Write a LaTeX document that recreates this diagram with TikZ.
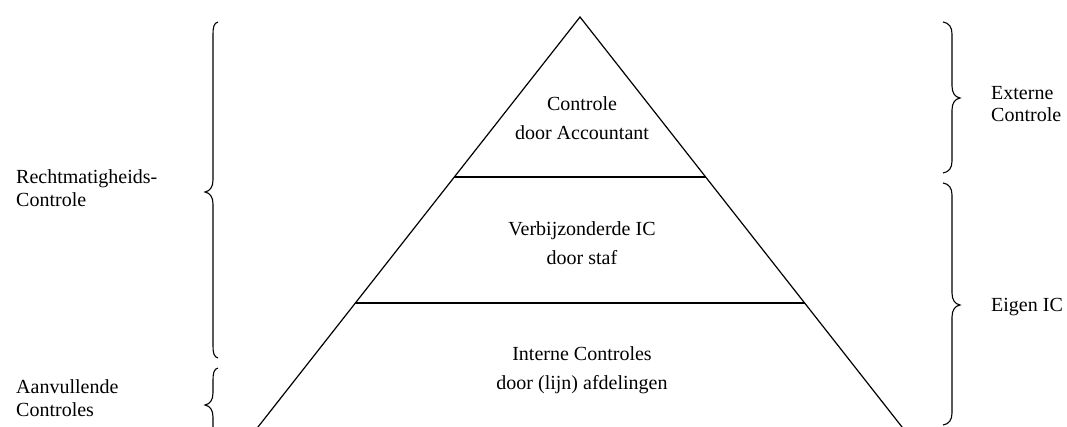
\documentclass[tikz,border=0pt]{standalone}
\usepackage{fontspec}
\setmainfont{Liberation Serif}
\begin{document}
\begin{tikzpicture}[x=1pt,y=-1pt,
  edge/.style={line width=1.2pt,line cap=butt},
  band/.style={line width=1.8pt},
  bracepath/.style={line width=1.1pt},
  centre/.style={align=center,inner sep=0pt,font=\fontsize{20}{29.5}\selectfont},
  side/.style={align=left,inner sep=0pt,anchor=west,font=\fontsize{20}{22.5}\selectfont}]
\useasboundingbox (0,0) rectangle (1067,427);
\begin{scope}
\clip (0,0) rectangle (1067,427);
% triangle
\coordinate (apex) at (580,17);
\coordinate (bl) at (247,441);
\coordinate (br) at (913,441);
\coordinate (l1) at (454.4,177);
\coordinate (r1) at (705.6,177);
\coordinate (l2) at (355.5,303);
\coordinate (r2) at (804.5,303);
\draw[edge] (bl) -- (apex) -- (br);
\draw[band] (l1) -- (r1);
\draw[band] (l2) -- (r2);
% left braces
\draw[bracepath] (218,22) .. controls (214,23) and (213,27) .. (213,34) -- (213,180)
  .. controls (213,187) and (210,191) .. (205,192)
  .. controls (210,193) and (213,197) .. (213,204) -- (213,346)
  .. controls (213,353) and (214,357) .. (218,358);
\draw[bracepath] (218,368) .. controls (214,369) and (213,373) .. (213,380) -- (213,393)
  .. controls (213,400) and (210,404) .. (205,405)
  .. controls (210,406) and (213,410) .. (213,417) -- (213,440);
% right braces
\draw[bracepath] (943,22) .. controls (949,23) and (952,27) .. (952,34) -- (952,86)
  .. controls (952,93) and (955,97) .. (960,98)
  .. controls (955,99) and (952,103) .. (952,110) -- (952,161)
  .. controls (952,168) and (949,172) .. (943,173);
\draw[bracepath] (943,183) .. controls (949,184) and (952,188) .. (952,195) -- (952,293)
  .. controls (952,300) and (955,304) .. (960,305)
  .. controls (955,306) and (952,310) .. (952,317) -- (952,413)
  .. controls (952,420) and (949,424) .. (943,425);
\end{scope}
% centre texts
\node[centre] (t1) at (582,118) {Controle\\door Accountant};
\node[centre] (t2) at (582,243) {Verbijzonderde IC\\door staf};
\node[centre] (t3) at (582,370) {Interne Controles\\door (lijn) afdelingen};
% side texts
\node[side] (s1) at (16,188) {Rechtmatigheids-\\Controle};
\node[side] (s2) at (16,398) {Aanvullende\\Controles};
\node[side] (s3) at (991,104) {Externe\\Controle};
\node[side] (s4) at (991,307) {Eigen IC};
\end{tikzpicture}
\end{document}
